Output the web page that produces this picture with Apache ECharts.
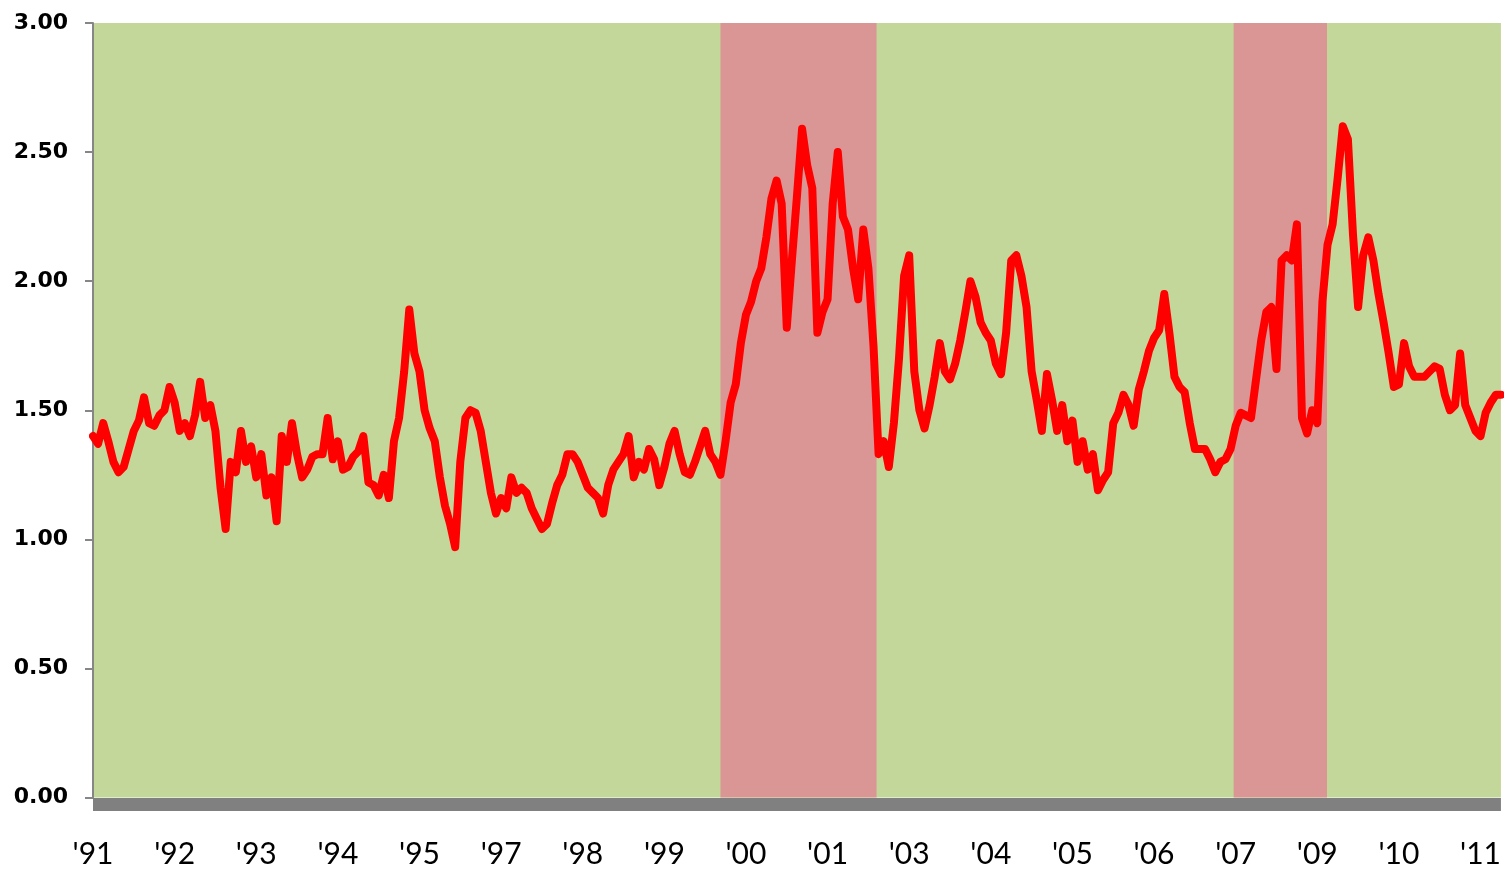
<!DOCTYPE html>
<html>
<head>
<meta charset="utf-8">
<script src="https://cdn.jsdelivr.net/npm/echarts@6/dist/echarts.min.js"></script>
<style>
  html, body { margin: 0; padding: 0; background: #fff; }
  #chart { width: 1504px; height: 869px; }
</style>
</head>
<body>
<div id="chart"></div>
<script>
// one label every 16 points on the category axis
const tickLabels = ["'91", "'92", "'93", "'94", "'95", "'97", "'98", "'99", "'00", "'01",
                    "'03", "'04", "'05", "'06", "'07", "'09", "'10", "'11"];
const labelStep = 16;

// ratio values, one per point
const ratio = [
    1.40, 1.37, 1.45, 1.38, 1.30, 1.26, 1.28, 1.35, 1.42, 1.46,
    1.55, 1.45, 1.44, 1.48, 1.50, 1.59, 1.53, 1.42, 1.45, 1.40,
    1.48, 1.61, 1.47, 1.52, 1.42, 1.20, 1.04, 1.30, 1.26, 1.42,
    1.30, 1.36, 1.24, 1.33, 1.17, 1.24, 1.07, 1.40, 1.30, 1.45,
    1.33, 1.24, 1.27, 1.32, 1.33, 1.33, 1.47, 1.31, 1.38, 1.27,
    1.28, 1.32, 1.34, 1.40, 1.22, 1.21, 1.17, 1.25, 1.16, 1.38,
    1.47, 1.65, 1.89, 1.72, 1.65, 1.50, 1.43, 1.38, 1.24, 1.13,
    1.06, 0.97, 1.30, 1.47, 1.50, 1.49, 1.42, 1.30, 1.18, 1.10,
    1.16, 1.12, 1.24, 1.18, 1.20, 1.18, 1.12, 1.08, 1.04, 1.06,
    1.14, 1.21, 1.25, 1.33, 1.33, 1.30, 1.25, 1.20, 1.18, 1.16,
    1.10, 1.21, 1.27, 1.30, 1.33, 1.40, 1.24, 1.30, 1.27, 1.35,
    1.31, 1.21, 1.28, 1.37, 1.42, 1.33, 1.26, 1.25, 1.30, 1.36,
    1.42, 1.33, 1.30, 1.25, 1.38, 1.53, 1.60, 1.76, 1.87, 1.92,
    2.00, 2.05, 2.17, 2.32, 2.39, 2.30, 1.82, 2.08, 2.33, 2.59,
    2.45, 2.36, 1.80, 1.88, 1.93, 2.30, 2.50, 2.25, 2.20, 2.05,
    1.93, 2.20, 2.05, 1.75, 1.33, 1.38, 1.28, 1.45, 1.70, 2.02,
    2.10, 1.65, 1.50, 1.43, 1.52, 1.63, 1.76, 1.65, 1.62, 1.68,
    1.77, 1.88, 2.00, 1.94, 1.84, 1.80, 1.77, 1.68, 1.64, 1.80,
    2.08, 2.10, 2.02, 1.90, 1.65, 1.54, 1.42, 1.64, 1.54, 1.42,
    1.52, 1.38, 1.46, 1.30, 1.38, 1.27, 1.33, 1.19, 1.23, 1.26,
    1.45, 1.49, 1.56, 1.52, 1.44, 1.58, 1.65, 1.73, 1.78, 1.81,
    1.95, 1.80, 1.63, 1.59, 1.57, 1.45, 1.35, 1.35, 1.35, 1.31,
    1.26, 1.30, 1.31, 1.35, 1.44, 1.49, 1.48, 1.47, 1.62, 1.77,
    1.88, 1.90, 1.66, 2.08, 2.10, 2.08, 2.22, 1.47, 1.41, 1.50,
    1.45, 1.92, 2.14, 2.22, 2.40, 2.60, 2.55, 2.18, 1.90, 2.10,
    2.17, 2.08, 1.95, 1.84, 1.72, 1.59, 1.60, 1.76, 1.67, 1.63,
    1.63, 1.63, 1.65, 1.67, 1.66, 1.56, 1.50, 1.52, 1.72, 1.52,
    1.47, 1.42, 1.40, 1.49, 1.53, 1.56, 1.56
];

// shaded periods, in point positions [start, end]
const shadedPeriods = [[123, 153.6], [223.6, 241.9]];

const categories = ratio.map((v, i) => String(i));

const chart = echarts.init(document.getElementById('chart'));

const option = {
    animation: false,
    backgroundColor: '#ffffff',
    grid: {
        left: 93,
        right: 1,
        top: 23,
        bottom: 69,
        show: true,
        backgroundColor: '#C4D79B',
        borderWidth: 0
    },
    xAxis: [
        {
            type: 'category',
            data: categories,
            boundaryGap: false,
            offset: 6.5,
            axisLine: {
                onZero: false,
                lineStyle: { color: '#808080', width: 13, cap: 'butt' }
            },
            axisTick: { show: false },
            axisLabel: {
                interval: labelStep - 1,
                margin: 35,
                color: '#000',
                fontFamily: 'Lato',
                fontSize: 30,
                formatter: function (value, index) {
                    return tickLabels[Math.round(index / labelStep)] || '';
                }
            },
            splitLine: { show: false }
        },
        {
            // helper axis so the shaded periods can start between points
            type: 'value',
            min: 0,
            max: ratio.length - 1,
            show: false
        }
    ],
    yAxis: {
        type: 'value',
        min: 0,
        max: 3,
        interval: 0.5,
        axisLine: {
            show: true,
            lineStyle: { color: '#868686', width: 2 }
        },
        axisTick: {
            show: true,
            length: 8,
            lineStyle: { color: '#868686', width: 2 }
        },
        axisLabel: {
            margin: 25,
            color: '#000',
            fontFamily: 'DejaVu Sans',
            fontWeight: 'bold',
            fontSize: 22,
            formatter: function (v) { return v.toFixed(2); }
        },
        splitLine: { show: false }
    },
    series: [
        {
            name: 'bands',
            type: 'line',
            xAxisIndex: 1,
            data: [],
            z: 1,
            silent: true,
            markArea: {
                silent: true,
                itemStyle: { color: '#DA9694', opacity: 1 },
                data: shadedPeriods.map(p => [{ xAxis: p[0] }, { xAxis: p[1] }])
            }
        },
        {
            name: 'ratio',
            type: 'line',
            data: ratio,
            z: 3,
            showSymbol: false,
            symbol: 'none',
            lineStyle: { color: '#FF0000', width: 8, cap: 'round', join: 'round' }
        }
    ]
};

chart.setOption(option);

window.addEventListener('resize', function () {
    chart.resize();
});
</script>
</body>
</html>
